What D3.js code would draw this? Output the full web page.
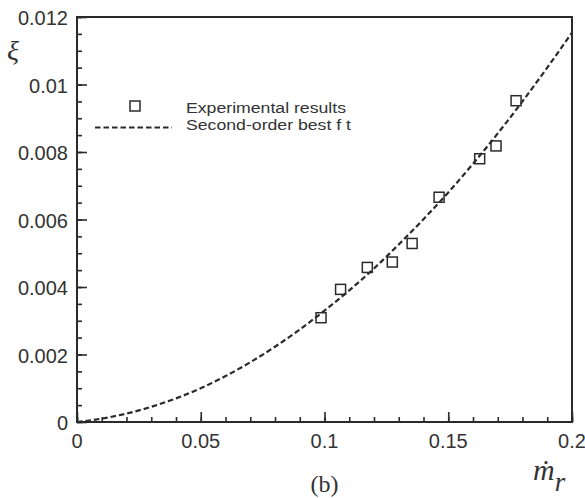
<!DOCTYPE html>
<html>
<head>
<meta charset="utf-8">
<script src="https://cdn.jsdelivr.net/npm/d3@7"></script>
<style>
  body { margin: 0; background: #fff; }
  svg { display: block; }
</style>
</head>
<body>
<div class="chart"></div>
<script>
// experimental points
const expX = [0.0986, 0.1065, 0.1173, 0.1274, 0.1354, 0.1463, 0.1627, 0.1693, 0.1774];
const expY = [0.00309, 0.00393, 0.00458, 0.00474, 0.00529, 0.00666, 0.0078, 0.00818, 0.00952];

// second-order best fit curve, sampled along the drawn line
const fitX = [0, 0.01, 0.02, 0.03, 0.04, 0.05, 0.06, 0.07, 0.08, 0.09, 0.1,
              0.11, 0.12, 0.13, 0.14, 0.15, 0.16, 0.17, 0.18, 0.19, 0.2];
const fitY = [0, 0.0001, 0.00025, 0.00045, 0.0007, 0.001, 0.00136, 0.00177, 0.00223, 0.00274, 0.0033,
              0.0039, 0.00455, 0.00526, 0.00601, 0.0068, 0.00765, 0.00855, 0.0095, 0.0105, 0.01154];

const xTicks = [0, 0.05, 0.1, 0.15, 0.2];
const xTickLabels = ['0', '0.05', '0.1', '0.15', '0.2'];
const yTicks = [0, 0.002, 0.004, 0.006, 0.008, 0.01, 0.012];
const yTickLabels = ['0', '0.002', '0.004', '0.006', '0.008', '0.01', '0.012'];

const width = 585, height = 498;
const margin = { left: 77, right: 13, top: 17, bottom: 76 };
const ink = '#2a2a2a';
const sans = 'Liberation Sans, Arial, sans-serif';
const serif = 'Liberation Serif, Times New Roman, serif';

const svg = d3.select('.chart')
              .append('svg')
              .attr('width', width)
              .attr('height', height);

const x = d3.scaleLinear()
            .domain([0, 0.2])
            .range([margin.left, width - margin.right]);
const y = d3.scaleLinear()
            .domain([0, 0.012])
            .range([height - margin.bottom, margin.top]);

// fit line, clipped to the frame
svg.append('clipPath').attr('id', 'clip')
   .append('rect')
   .attr('x', x(0)).attr('y', y(0.012))
   .attr('width', x(0.2) - x(0)).attr('height', y(0) - y(0.012));

const line = d3.line()
               .x(i => x(fitX[i]))
               .y(i => y(fitY[i]))
               .curve(d3.curveMonotoneX);

svg.append('path')
   .attr('d', line(d3.range(fitX.length)))
   .attr('clip-path', 'url(#clip)')
   .attr('fill', 'none')
   .attr('stroke', ink)
   .attr('stroke-width', 2.2)
   .attr('stroke-dasharray', '5.5,3');

// markers
const sq = 10;
svg.selectAll('rect.pt')
   .data(d3.range(expX.length))
   .join('rect')
   .attr('class', 'pt')
   .attr('x', i => x(expX[i]) - sq / 2)
   .attr('y', i => y(expY[i]) - sq / 2)
   .attr('width', sq)
   .attr('height', sq)
   .attr('fill', 'none')
   .attr('stroke', ink)
   .attr('stroke-width', 1.5);

// axes (ticks inward)
const xAxis = svg.append('g')
   .attr('transform', `translate(0, ${y(0)})`)
   .call(d3.axisTop(x).tickValues(d3.range(0, 0.2001, 0.01)).tickSize(5).tickFormat(''));
const xMajor = svg.append('g')
   .attr('transform', `translate(0, ${y(0)})`)
   .call(d3.axisTop(x).tickValues(xTicks).tickSize(10).tickFormat(''));
const yAxis = svg.append('g')
   .attr('transform', `translate(${x(0)}, 0)`)
   .call(d3.axisRight(y).tickValues(d3.range(0, 0.01201, 0.0005)).tickSize(5).tickFormat(''));
const yMajor = svg.append('g')
   .attr('transform', `translate(${x(0)}, 0)`)
   .call(d3.axisRight(y).tickValues(yTicks).tickSize(10).tickFormat(''));

[xAxis, xMajor, yAxis, yMajor].forEach(g => {
  g.select('.domain').remove();
  g.selectAll('line').attr('stroke', ink).attr('stroke-width', 1.6);
});

// frame
svg.append('rect')
   .attr('x', x(0)).attr('y', y(0.012))
   .attr('width', x(0.2) - x(0)).attr('height', y(0) - y(0.012))
   .attr('fill', 'none')
   .attr('stroke', ink)
   .attr('stroke-width', 2);

// tick labels
svg.selectAll('text.xl')
   .data(xTicks)
   .join('text')
   .attr('class', 'xl')
   .attr('x', d => x(d))
   .attr('y', y(0) + 26)
   .attr('text-anchor', 'middle')
   .attr('font-family', sans)
   .attr('font-size', 20)
   .attr('fill', '#333')
   .text((d, i) => xTickLabels[i]);

svg.selectAll('text.yl')
   .data(yTicks)
   .join('text')
   .attr('class', 'yl')
   .attr('x', x(0) - 9)
   .attr('y', d => y(d) + 8)
   .attr('text-anchor', 'end')
   .attr('font-family', sans)
   .attr('font-size', 20)
   .attr('fill', '#333')
   .text((d, i) => yTickLabels[i]);

// axis titles
svg.append('text')
   .attr('x', 7).attr('y', 60)
   .attr('font-family', serif)
   .attr('font-style', 'italic')
   .attr('font-size', 28)
   .attr('fill', '#333')
   .text('ξ');

const mLabel = svg.append('text')
   .attr('x', 533).attr('y', 480)
   .attr('font-family', serif)
   .attr('font-style', 'italic')
   .attr('font-size', 30)
   .attr('fill', '#333');
mLabel.append('tspan').text('m\u0307');
mLabel.append('tspan').attr('dy', 11).attr('font-size', 27).text('r');

svg.append('text')
   .attr('x', x(0.1)).attr('y', 492)
   .attr('text-anchor', 'middle')
   .attr('font-family', serif)
   .attr('font-size', 24)
   .attr('fill', '#333')
   .text('(b)');

// legend
const legend = svg.append('g').attr('font-family', sans)
                  .attr('font-size', 15.5).attr('fill', '#333');
legend.append('rect')
      .attr('x', 130).attr('y', 101).attr('width', sq).attr('height', sq)
      .attr('fill', 'none').attr('stroke', ink).attr('stroke-width', 1.5);
legend.append('text').attr('x', 186).attr('y', 113)
      .attr('textLength', 160).attr('lengthAdjust', 'spacingAndGlyphs')
      .text('Experimental results');
legend.append('line')
      .attr('x1', 95).attr('x2', 172).attr('y1', 127.5).attr('y2', 127.5)
      .attr('stroke', ink).attr('stroke-width', 2.2).attr('stroke-dasharray', '5.5,3');
legend.append('text').attr('x', 186).attr('y', 130)
      .attr('textLength', 165).attr('lengthAdjust', 'spacingAndGlyphs')
      .text('Second-order best f t');
</script>
</body>
</html>
